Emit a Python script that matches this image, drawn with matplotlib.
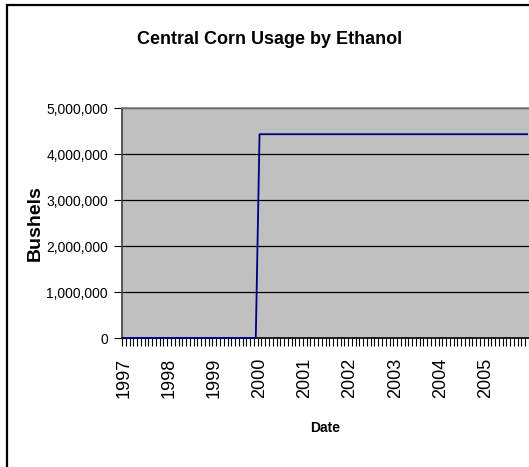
import numpy as np
import matplotlib.pyplot as plt
from matplotlib.patches import Rectangle
from matplotlib.ticker import FuncFormatter

plt.rcParams['font.family'] = ['Liberation Sans']

years = ['1997', '1998', '1999', '2000', '2001', '2002', '2003', '2004', '2005']

# monthly bushels, Jan 1997 .. Dec 2005 (one row per year)
bushels = [
    0, 0, 0, 0, 0, 0, 0, 0, 0, 0, 0, 0,
    0, 0, 0, 0, 0, 0, 0, 0, 0, 0, 0, 0,
    0, 0, 0, 0, 0, 0, 0, 0, 0, 0, 0, 0,
    4430000, 4430000, 4430000, 4430000, 4430000, 4430000, 4430000, 4430000, 4430000, 4430000, 4430000, 4430000,
    4430000, 4430000, 4430000, 4430000, 4430000, 4430000, 4430000, 4430000, 4430000, 4430000, 4430000, 4430000,
    4430000, 4430000, 4430000, 4430000, 4430000, 4430000, 4430000, 4430000, 4430000, 4430000, 4430000, 4430000,
    4430000, 4430000, 4430000, 4430000, 4430000, 4430000, 4430000, 4430000, 4430000, 4430000, 4430000, 4430000,
    4430000, 4430000, 4430000, 4430000, 4430000, 4430000, 4430000, 4430000, 4430000, 4430000, 4430000, 4430000,
    4430000, 4430000, 4430000, 4430000, 4430000, 4430000, 4430000, 4430000, 4430000, 4430000, 4430000, 4430000,
]

W, H = 529, 467
fig = plt.figure(figsize=(W / 100, H / 100), dpi=100)

# outer chart frame (runs off the right and bottom of the picture)
fig.patches.append(Rectangle((7 / W, -0.1), 1.2, 1.1 - 5 / H, transform=fig.transFigure,
                             fill=False, edgecolor='black', lw=1.6))

ax = fig.add_axes([122 / W, 1 - 338 / H, (529 - 122) / W, (338 - 108) / H])
ax.set_facecolor('#c0c0c0')

x = np.arange(len(bushels))
ax.plot(x, bushels, color='#000080', lw=1.3, zorder=3, clip_on=False)

ax.set_xlim(-0.5, len(bushels) - 0.5)
ax.set_ylim(0, 5000000)
ax.set_yticks(np.arange(0, 5000001, 1000000))
ax.yaxis.set_major_formatter(FuncFormatter(lambda v, p: f'{int(v):,}'))
ax.grid(axis='y', color='black', lw=0.9)
ax.set_axisbelow(True)

ax.set_xticks(np.arange(0, len(bushels), 12))
ax.set_xticklabels(years, rotation=90)
ax.set_xticks(np.arange(-0.5, len(bushels), 1), minor=True)
ax.tick_params(axis='x', which='major', length=0, pad=14, labelsize=13)
ax.tick_params(axis='x', which='minor', length=6, width=0.8, color='black')
ax.tick_params(axis='y', length=6, width=0.8, pad=4, labelsize=10)

ax.spines['top'].set_color('#808080')
ax.spines['left'].set_color('#404040')
ax.spines['right'].set_visible(False)
ax.spines['bottom'].set_color('black')
for s in ax.spines.values():
    s.set_linewidth(1.2)

fig.text(270 / W, 1 - 40 / H, 'Central Corn Usage by Ethanol', ha='center', va='center',
         fontsize=13, fontweight='bold')
fig.text(325 / W, 1 - 428 / H, 'Date', ha='center', va='center', fontsize=10, fontweight='bold')
fig.text(35 / W, 1 - 223 / H, 'Bushels', ha='center', va='center', rotation=90,
         fontsize=14, fontweight='bold')

fig.savefig('out.png', dpi=100)
